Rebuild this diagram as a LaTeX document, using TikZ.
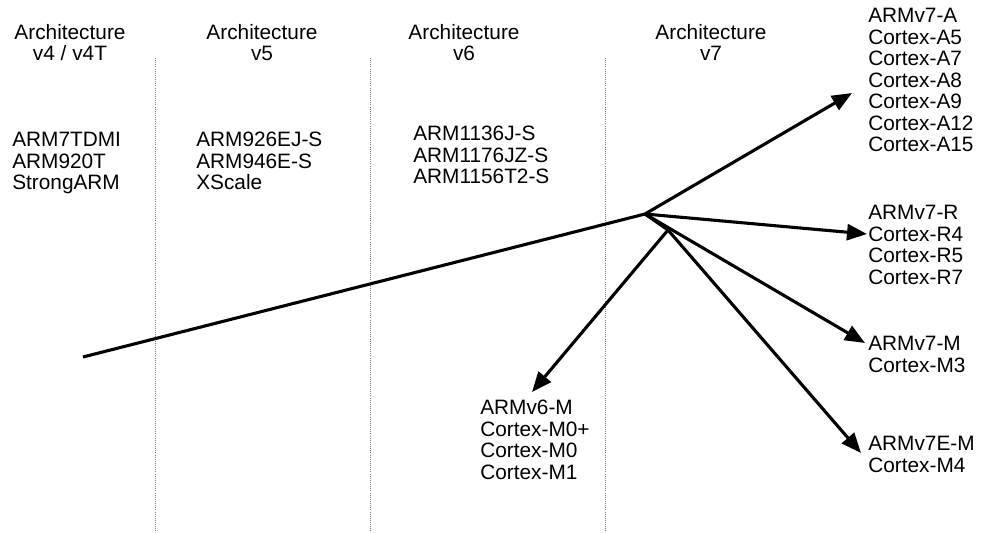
\documentclass[tikz,border=0pt]{standalone}
\usepackage{fontspec}
\setmainfont{Liberation Sans}
\usetikzlibrary{arrows.meta, positioning}
\tikzset{>={Triangle[length=0.5cm, width=0.4cm]}}
\tikzset{
  archtext/.style={align=left, anchor=north west, inner sep=0pt, font=\fontsize{14.8}{15.3}\selectfont},
  archhead/.style={align=center, anchor=north, inner sep=0pt, font=\fontsize{14.8}{15.3}\selectfont},
  divider/.style={gray, densely dotted, line width=0.5pt},
  branch/.style={line width=2.2pt}
}

\begin{document}
\begin{tikzpicture}[x=0.025cm, y=-0.025cm]
        \useasboundingbox (0,0) rectangle (996,533);
        % headers
        \node[archhead] (h4) at (70,24) {Architecture\\v4 / v4T};
        \node[archhead] (h5) at (262,24) {Architecture\\v5};
        \node[archhead] (h6) at (464,24) {Architecture\\v6};
        \node[archhead] (h7) at (711,24) {Architecture\\v7};
        % dividers
        \draw[divider] (155,58) -- (155,533);
        \draw[divider] (370,58) -- (370,533);
        \draw[divider] (605,58) -- (605,533);
        % cores
        \node[archtext] (v4) at (12,132) {ARM7TDMI\\ARM920T\\StrongARM};
        \node[archtext] (v5) at (196,132) {ARM926EJ-S\\ARM946E-S\\XScale};
        \node[archtext] (v6) at (413,126) {ARM1136J-S\\ARM1176JZ-S\\ARM1156T2-S};
        \node[archtext] (v7a) at (868,8) {ARMv7-A\\Cortex-A5\\Cortex-A7\\Cortex-A8\\Cortex-A9\\Cortex-A12\\Cortex-A15};
        \node[archtext] (v7r) at (868,205) {ARMv7-R\\Cortex-R4\\Cortex-R5\\Cortex-R7};
        \node[archtext] (v7m) at (868,336) {ARMv7-M\\Cortex-M3};
        \node[archtext] (v7em) at (868,436) {ARMv7E-M\\Cortex-M4};
        \node[archtext] (v6m) at (480,400) {ARMv6-M\\Cortex-M0+\\Cortex-M0\\Cortex-M1};
        % timeline
        \coordinate (start) at (83,357);
        \coordinate (hub) at (645,214);
        \coordinate (hubm) at (668,230);
        \coordinate (tipa) at (852,93);
        \coordinate (tipr) at (867,234);
        \coordinate (tipm) at (865,343);
        \coordinate (tipem) at (861,453);
        \coordinate (tipv6m) at (532,392);
        \draw[branch, line join=round] (start) -- (hub) -- (hubm);
        \draw[branch, ->] (hub) -- (tipa);
        \draw[branch, ->] (hub) -- (tipr);
        \draw[branch, ->] (hub) -- (tipm);
        \draw[branch, ->] (hubm) -- (tipem);
        \draw[branch, ->] (hubm) -- (tipv6m);
    \end{tikzpicture}
\end{document}
